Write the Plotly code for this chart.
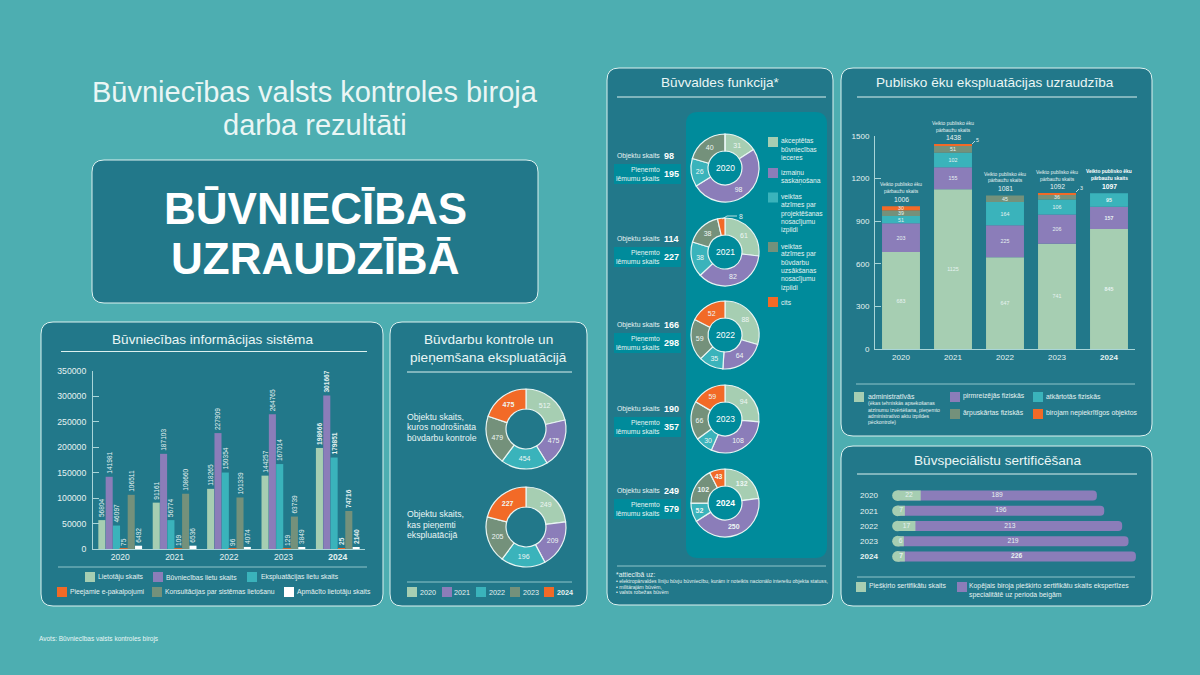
import plotly.graph_objects as go

W, H = 1200, 675
FONT = "Liberation Sans, Arial, sans-serif"
BG = "#4DAEB1"
PANEL = "#22788A"
INNER = "#008B9B"
EDGE = "#DCF1EF"
LIGHT = "#E6F2F1"
WHITE = "#FFFFFF"
GREEN = "#A6CEB2"
PURPLE = "#8B7DB9"
TEAL = "#3AB3BB"
OLIVE = "#74917B"
ORANGE = "#F26A27"
AXIS = "#A9D5D8"

years = ["2020", "2021", "2022", "2023", "2024"]
year_ticks = ["2020", "2021", "2022", "2023", "<b>2024</b>"]

lietotaji = [56804, 91161, 118265, 144257, 198666]
buvn_lietas = [141981, 187103, 227909, 264765, 301667]
eksp_lietas = [46097, 56774, 150354, 167014, 179851]
e_pakalp = [75, 109, 96, 129, 25]
konsultacijas = [106511, 108660, 101339, 63739, 74716]
apmacitie = [6492, 6536, 4074, 3849, 2140]

kontrole = [512, 475, 454, 479, 475]
pienemti = [249, 209, 196, 205, 227]

f_objekti = [98, 114, 166, 190, 249]
f_lemumi = [195, 227, 298, 357, 579]
f_akceptetas = [31, 61, 88, 94, 132]
f_izmainas = [98, 82, 64, 108, 250]
f_projektesana = [26, 38, 35, 30, 52]
f_uzsaksana = [40, 38, 59, 66, 102]
f_cits = [0, 8, 52, 59, 43]

p_admin = [683, 1125, 647, 741, 845]
p_pirmreizejas = [203, 155, 225, 206, 157]
p_atkartotas = [51, 102, 164, 106, 95]
p_arpuskartas = [39, 51, 45, 36, 0]
p_nepiekritigi = [30, 5, 0, 3, 0]
p_kopa = [1006, 1438, 1081, 1092, 1097]

s_pieskirti = [22, 7, 17, 6, 7]
s_kopejais = [189, 196, 213, 219, 226]

PIE5 = [GREEN, PURPLE, TEAL, OLIVE, ORANGE]


def px(x):
    return x / W


def py(y):
    return 1 - y / H


shapes, annos = [], []


def panel(x0, y0, x1, y1, fill=PANEL, edge=EDGE, r=12, w=1):
    X0, X1, Y0, Y1 = px(x0), px(x1), py(y0), py(y1)
    rx, ry = r / W, r / H
    path = (f"M{X0 + rx},{Y0} L{X1 - rx},{Y0} Q{X1},{Y0} {X1},{Y0 - ry} "
            f"L{X1},{Y1 + ry} Q{X1},{Y1} {X1 - rx},{Y1} L{X0 + rx},{Y1} "
            f"Q{X0},{Y1} {X0},{Y1 + ry} L{X0},{Y0 - ry} Q{X0},{Y0} {X0 + rx},{Y0} Z")
    shapes.append(dict(type="path", xref="paper", yref="paper", path=path, fillcolor=fill,
                       line=dict(color=edge, width=w), layer="below"))


def rule(x0, x1, y, color=EDGE, w=1):
    shapes.append(dict(type="line", xref="paper", yref="paper", x0=px(x0), x1=px(x1), y0=py(y), y1=py(y),
                       line=dict(color=color, width=w), layer="below"))


def seg(x0, y0, x1, y1, color=LIGHT, w=0.8):
    shapes.append(dict(type="line", xref="paper", yref="paper", x0=px(x0), x1=px(x1), y0=py(y0), y1=py(y1),
                       line=dict(color=color, width=w), layer="above"))


def box(x0, y0, x1, y1, color, layer="below"):
    shapes.append(dict(type="rect", xref="paper", yref="paper", x0=px(x0), x1=px(x1), y0=py(y0), y1=py(y1),
                       fillcolor=color, line=dict(width=0), layer=layer))


def text(x, y, s, size=8, color=LIGHT, anchor="left", bold=False):
    annos.append(dict(xref="paper", yref="paper", x=px(x), y=py(y), text=f"<b>{s}</b>" if bold else s,
                      showarrow=False, xanchor=anchor, yanchor="middle", borderpad=0, borderwidth=0,
                      font=dict(family=FONT, size=size, color=color)))


def swatch(x, y, color, s=10):
    box(x, y - s / 2, x + s, y + s / 2, color)


panel(92, 160, 538, 303)
panel(41, 322, 383, 606)
panel(390, 322, 587, 606)
panel(607, 68, 833, 605)
panel(686, 112, 827, 558, fill=INNER, edge=INNER, r=12, w=0)
panel(841, 68, 1152, 436)
panel(841, 446, 1152, 606)

text(315, 92, "Būvniecības valsts kontroles biroja", 29, "#EAF6F5", "center")
text(315, 125, "darba rezultāti", 29, "#EAF6F5", "center")
text(315, 208, "BŪVNIECĪBAS", 44, WHITE, "center", True)
text(315, 258, "UZRAUDZĪBĀ", 44, WHITE, "center", True)
text(39, 639, "Avots: Būvniecības valsts kontroles birojs", 6.5, "#EAF6F5")

text(212, 340, "Būvniecības informācijas sistēma", 13.6, "#EAF6F5", "center")
rule(61, 367, 351.5)
text(489, 340, "Būvdarbu kontrole un", 13.6, "#EAF6F5", "center")
text(489, 357, "pieņemšana ekspluatācijā", 13.6, "#EAF6F5", "center")
rule(407, 572, 372)
text(720, 83, "Būvvaldes funkcija*", 13.6, "#EAF6F5", "center")
rule(617, 826, 97)
text(995, 83, "Publisko ēku ekspluatācijas uzraudzība", 13.6, "#EAF6F5", "center")
rule(857, 1137, 97)
text(997, 460, "Būvspeciālistu sertificēšana", 13.6, "#EAF6F5", "center")
rule(857, 1137, 474)

fig = go.Figure()


def bold_last(vals, blank_zero=False):
    out = []
    for i, v in enumerate(vals):
        s = "" if (blank_zero and v == 0) else str(v)
        out.append(f"<b>{s}</b>" if (i == len(vals) - 1 and s) else s)
    return out


c1 = [("Lietotāju skaits", lietotaji, GREEN), ("Būvniecības lietu skaits", buvn_lietas, PURPLE),
      ("Ekspluatācijas lietu skaits", eksp_lietas, TEAL), ("Pieejamie e-pakalpojumi", e_pakalp, ORANGE),
      ("Konsultācijas par sistēmas lietošanu", konsultacijas, OLIVE), ("Apmācīto lietotāju skaits", apmacitie, WHITE)]
for name, vals, col in c1:
    line = dict(width=0)
    if vals is e_pakalp:
        line = dict(width=[1.6, 1.6, 1.6, 1.6, 0], color=ORANGE)
    fig.add_bar(x=years, y=vals, name=name, xaxis="x", yaxis="y", marker=dict(color=col, line=line),
                text=bold_last(vals), textposition="outside", textangle=-90, constraintext="none",
                cliponaxis=False, textfont=dict(family=FONT, size=6.6, color=LIGHT), showlegend=False)

c2 = [("administratīvās", p_admin, GREEN), ("pirmreizējās fiziskās", p_pirmreizejas, PURPLE),
      ("atkārtotās fiziskās", p_atkartotas, TEAL), ("ārpuskārtas fiziskās", p_arpuskartas, OLIVE),
      ("birojam nepiekrītīgos objektos", p_nepiekritigi, ORANGE)]
base = [0] * 5
for name, vals, col in c2:
    labels = bold_last(vals, True)
    labels = ["" if v < 10 else t for v, t in zip(vals, labels)]
    fig.add_bar(x=years, y=vals, base=list(base), offsetgroup="stack", width=0.73, name=name, xaxis="x2", yaxis="y2",
                marker=dict(color=col, line=dict(width=0)),
                text=labels, textposition="inside", insidetextanchor="middle", textangle=0, constraintext="none",
                textfont=dict(family=FONT, size=5.3, color=LIGHT), showlegend=False)
    base = [b + v for b, v in zip(base, vals)]

for i, tot in enumerate(p_kopa):
    b = i == 4
    for s, shift, sz in (("Veikto publisko ēku", 21.5, 4.9), ("pārbaužu skaits", 14.8, 4.9), (str(tot), 7, 6.8)):
        annos.append(dict(xref="x2", yref="y2", x=i, y=tot, yshift=shift, showarrow=False, xanchor="center",
                          yanchor="middle", borderpad=0, text=f"<b>{s}</b>" if b else s,
                          font=dict(family=FONT, size=sz, color=WHITE if b else LIGHT)))

seg(972, 144, 975, 141)
text(976, 140, "5", 5.3)
seg(1076, 192, 1079, 189)
text(1080, 188, "3", 5.3)

fig.add_bar(y=years, x=s_kopejais, orientation="h", name="Kopējais", xaxis="x3", yaxis="y3", offsetgroup="pill", width=0.65,
            marker=dict(color=PURPLE, cornerradius=5, line=dict(width=0)), showlegend=False)
fig.add_bar(y=years, x=s_pieskirti, orientation="h", name="Piešķirto", xaxis="x3", yaxis="y3", offsetgroup="pill", width=0.65,
            marker=dict(color=GREEN, line=dict(width=0)), showlegend=False)
fig.add_scatter(y=years, x=[0] * len(years), mode="markers", xaxis="x3", yaxis="y3", cliponaxis=False,
                marker=dict(color=GREEN, size=10.7, line=dict(width=0)), showlegend=False, hoverinfo="skip")
fig.add_scatter(y=years, x=[v / 2 for v in s_kopejais], mode="text", text=bold_last(s_kopejais), xaxis="x3", yaxis="y3",
                textposition="middle center", textfont=dict(family=FONT, size=6.7, color=LIGHT), showlegend=False,
                hoverinfo="skip", cliponaxis=False)
fig.add_scatter(y=years, x=[v / 2 for v in s_pieskirti], mode="text", text=bold_last(s_pieskirti), xaxis="x3", yaxis="y3",
                textposition="middle center", textfont=dict(family=FONT, size=6.7, color=LIGHT), showlegend=False,
                hoverinfo="skip", cliponaxis=False)


def donut(vals, cx, cy, r, colors, size=7, bold=False, hide=()):
    labels = []
    for i, v in enumerate(vals):
        s = "" if (v == 0 or v in hide) else str(v)
        labels.append(f"<b>{s}</b>" if (bold or (bold is None and i == len(vals) - 1)) and s else s)
    fig.add_pie(values=vals, labels=list(range(len(vals))), sort=False, direction="clockwise", rotation=0,
                hole=0.5, domain=dict(x=[px(cx - r), px(cx + r)], y=[py(cy + r), py(cy - r)]),
                marker=dict(colors=colors, line=dict(color="#E8F5F3", width=1.2)),
                text=labels, textinfo="text", textposition="inside", insidetextorientation="horizontal",
                textfont=dict(family=FONT, size=size, color="#EEF6F4"), showlegend=False, hoverinfo="skip")


donut(kontrole, 526, 429, 40, PIE5, bold=None)
donut(pienemti, 526, 527, 40, PIE5, bold=None)

for t, y in (("Objektu skaits,", 416.5), ("kuros nodrošināta", 427), ("būvdarbu kontrole", 437.5),
             ("Objektu skaits,", 514), ("kas pieņemti", 524.5), ("ekspluatācijā", 535)):
    text(407, y, t, 8.7, "#EAF6F5")

rule(407, 572, 582, color="#8FC5CA")
for x, tx, col, yr in zip((407, 442, 476, 510, 544), (420, 454, 489, 523, 557), PIE5, years):
    swatch(x, 592, col, 10)
    text(tx, 592, yr, 7.2, LIGHT, bold=yr == "2024")

centres = [168, 252, 335, 419, 503]
obj_y = [156, 239, 325, 409, 491]
box_y = [174, 257, 343, 427, 509]
for i, yr in enumerate(years):
    vals = [f_akceptetas[i], f_izmainas[i], f_projektesana[i], f_uzsaksana[i], f_cits[i]]
    donut(vals, 725, centres[i], 34, PIE5, bold=i == 4, hide=(8,))
    text(725, centres[i], yr, 8.5, WHITE, "center", i == 4)
    text(660, obj_y[i], "Objektu skaits", 6.8, LIGHT, "right")
    text(664, obj_y[i], str(f_objekti[i]), 9, WHITE, bold=True)
    box(614, box_y[i] - 10, 681, box_y[i] + 10, INNER)
    text(660, box_y[i] - 4.2, "Pieņemto", 6.8, LIGHT, "right")
    text(660, box_y[i] + 4.2, "lēmumu skaits", 6.8, LIGHT, "right")
    text(664, box_y[i], str(f_lemumi[i]), 9, WHITE, bold=True)

seg(722, 219, 727, 216)
seg(727, 216, 737, 216)
text(739, 216, "8", 6.8)

f_legend = [(142, GREEN, ["akceptētas", "būvniecības", "ieceres"], 141),
            (173, PURPLE, ["izmaiņu", "saskaņošana"], 173),
            (197.5, TEAL, ["veiktas", "atzīmes par", "projektēšanas", "nosacījumu", "izpildi"], 197),
            (247, OLIVE, ["veiktas", "atzīmes par", "būvdarbu", "uzsākšanas", "nosacījumu", "izpildi"], 246),
            (302, ORANGE, ["cits"], 302)]
for sy, col, lines, ty in f_legend:
    swatch(768, sy, col, 10)
    for k, l in enumerate(lines):
        text(781, ty + 8.3 * k, l, 6.7, LIGHT)

rule(617, 826, 566, color="#8FC5CA")
text(616, 574, "*attiecībā uz:", 6.8, LIGHT)
text(616, 581, "• elektropārvaldes līniju būvju būvniecību, kurām ir noteikts nacionālo interešu objekta statuss,", 5.1, LIGHT)
text(616, 586.5, "• militārajām būvēm,", 5.1, LIGHT)
text(616, 592, "• valsts robežas būvēm", 5.1, LIGHT)

rule(58, 367, 567, color="#8FC5CA")
for (name, _, col), (sx, tx, y) in zip(c1, [(85, 97.5, 577), (153, 166, 577), (247, 260.5, 577),
                                            (57, 70, 592), (152, 165, 592), (284, 296.5, 592)]):
    swatch(sx, y, col, 10)
    text(tx, y, name, 6.8, LIGHT)

rule(856, 1135, 384, color="#8FC5CA")
swatch(854, 397, GREEN, 10)
text(868, 396, "administratīvās", 6.9, LIGHT)
for t, y in (("(ēkas tehniskās apsekošanas", 403), ("atzinumu izvērtēšana, pieņemto", 409.5),
             ("administratīvo aktu izpildes", 416), ("pēckontrole)", 422)):
    text(868, y, t, 5.1, LIGHT)
for name, col, sx, tx, y in (("pirmreizējās fiziskās", PURPLE, 950, 963, 396), ("atkārtotās fiziskās", TEAL, 1033, 1046, 396),
                             ("ārpuskārtas fiziskās", OLIVE, 950, 963, 413), ("birojam nepiekrītīgos objektos", ORANGE, 1033, 1046, 413)):
    swatch(sx, y + 1, col, 10)
    text(tx, y, name, 6.85, LIGHT)

rule(857, 1135, 577, color="#8FC5CA")
swatch(856, 587, GREEN, 10)
text(869, 586, "Piešķirto sertifikātu skaits", 6.85, LIGHT)
swatch(957, 587, PURPLE, 10)
text(969, 586, "Kopējais biroja piešķirto sertifikātu skaits ekspertīzes", 6.85, LIGHT)
text(969, 594.5, "specialitātē uz perioda beigām", 6.85, LIGHT)

fig.update_layout(
    width=W, height=H, margin=dict(l=0, r=0, t=0, b=0, autoexpand=False), autosize=False,
    paper_bgcolor=BG, plot_bgcolor="rgba(0,0,0,0)", font=dict(family=FONT, color=LIGHT),
    barmode="group", bargap=0.19, bargroupgap=0.04, showlegend=False,
    shapes=shapes, annotations=annos,
    xaxis=dict(domain=[px(93), px(365)], anchor="y", type="category", categoryorder="array", categoryarray=years,
               tickvals=years, ticktext=year_ticks, showgrid=False, ticks="", showline=True, linecolor=AXIS,
               linewidth=1, tickfont=dict(family=FONT, size=8.5, color=LIGHT), fixedrange=True),
    yaxis=dict(domain=[py(549), py(371)], anchor="x", range=[0, 350000], tickmode="array",
               tickvals=[0, 50000, 100000, 150000, 200000, 250000, 300000, 350000], tickformat="d",
               showgrid=False, zeroline=False, showline=True, linecolor=AXIS, linewidth=1, ticks="inside", ticklen=6,
               ticklabelstandoff=4, tickcolor=AXIS, tickwidth=1, tickfont=dict(family=FONT, size=8.7, color=LIGHT),
               fixedrange=True),
    xaxis2=dict(domain=[px(875), px(1135)], anchor="y2", type="category", categoryorder="array", categoryarray=years,
                range=[-0.5, 4.5], tickvals=years, ticktext=year_ticks, showgrid=False, ticks="", showline=True,
                linecolor=AXIS, linewidth=1, tickfont=dict(family=FONT, size=8, color=LIGHT), fixedrange=True),
    yaxis2=dict(domain=[py(349), py(136)], anchor="x2", range=[0, 1500], tickmode="array",
                tickvals=[0, 300, 600, 900, 1200, 1500], showgrid=False, zeroline=False, showline=True,
                linecolor=AXIS, linewidth=1, ticks="inside", ticklen=6, ticklabelstandoff=3, tickcolor=AXIS, tickwidth=1,
                tickfont=dict(family=FONT, size=8, color=LIGHT), fixedrange=True),
    xaxis3=dict(domain=[px(897.5), px(1140)], anchor="y3", range=[0, 229.9], visible=False, fixedrange=True),
    yaxis3=dict(domain=[py(567.25), py(484.75)], anchor="x3", type="category", categoryorder="array",
                categoryarray=years[::-1], tickvals=years, ticktext=year_ticks, showgrid=False, zeroline=False,
                showline=False, ticks="outside", ticklen=17, tickcolor="rgba(0,0,0,0)",
                tickfont=dict(family=FONT, size=8, color=LIGHT), fixedrange=True),
)

fig.write_html("out.html", config=dict(displayModeBar=False),
               post_script="document.body.style.margin='0';")
